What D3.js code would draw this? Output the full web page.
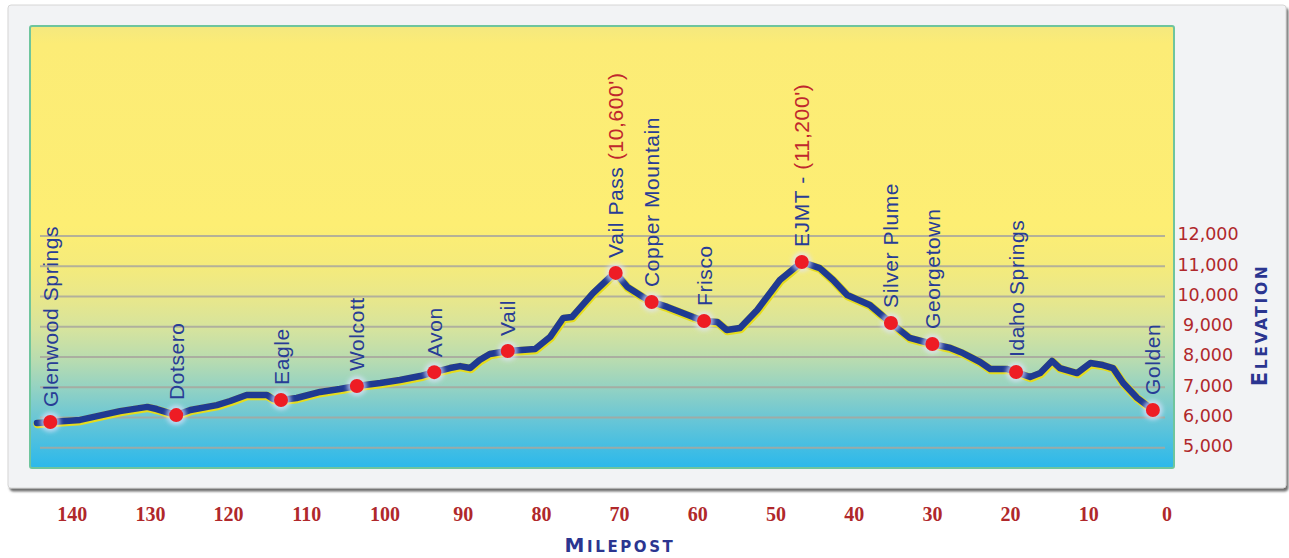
<!DOCTYPE html>
<html>
<head>
<meta charset="utf-8">
<script src="https://cdn.jsdelivr.net/npm/d3@7"></script>
<style>
  html, body { margin: 0; padding: 0; background: #ffffff; }
  svg { display: block; }
</style>
</head>
<body>
<svg id="chart" width="1289" height="558"></svg>
<script>
// ---------- DATA ----------
const profileMiles = [144.5,142.8,139.0,133.9,130.4,129.2,126.7,124.9,121.5,119.8,117.7,115.1,114.3,113.3,111.3,108.3,105.8,103.6,100.6,98.1,95.5,93.7,91.7,90.4,89.1,87.9,86.6,84.3,80.8,78.9,77.2,76.1,73.4,71.2,70.5,69.0,67.0,65.9,63.9,60.6,59.2,57.5,56.3,54.6,52.4,49.5,46.7,44.4,42.7,40.9,38.0,35.3,32.9,30.0,27.7,26.1,23.9,22.6,20.5,19.3,17.5,16.2,14.7,13.7,11.5,9.8,8.2,6.9,5.6,3.8,1.8];
const profileElev  = [5820,5850,5920,6210,6350,6280,6080,6250,6410,6545,6745,6745,6610,6580,6645,6845,6940,7040,7140,7240,7370,7500,7635,7700,7635,7900,8100,8200,8265,8660,9290,9320,10115,10645,10780,10315,9985,9820,9655,9320,9190,9155,8890,8960,9555,10545,11140,10940,10545,10050,9720,9125,8630,8430,8300,8130,7835,7605,7605,7505,7340,7470,7870,7635,7470,7800,7735,7635,7140,6645,6250];

const cityNames = ["Glenwood Springs","Dotsero","Eagle","Wolcott","Avon","Vail","Vail Pass","Copper Mountain","Frisco","EJMT - ","Silver Plume","Georgetown","Idaho Springs","Golden"];
const cityNotes = ["","","","","","","(10,600')","","","(11,200')","","","",""];
const cityMiles = [142.8,126.7,113.3,103.6,93.7,84.3,70.5,65.9,59.2,46.7,35.3,30.0,19.3,1.8];
const cityElev  = [5850,6080,6580,7040,7500,8200,10780,9820,9190,11140,9125,8430,7505,6250];

const xTickValues = [140,130,120,110,100,90,80,70,60,50,40,30,20,10,0];
const xTickLabels = ["140","130","120","110","100","90","80","70","60","50","40","30","20","10","0"];
const yTickValues = [12000,11000,10000,9000,8000,7000,6000,5000];
const yTickLabels = ["12,000","11,000","10,000","9,000","8,000","7,000","6,000","5,000"];
const xTitle = "Milepost";
const yTitle = "Elevation";

// ---------- LAYOUT ----------
const svg = d3.select("#chart");
const plot = {x: 30, y: 26, w: 1144, h: 442};
const x = d3.scaleLinear().domain([145.4, -0.9]).range([plot.x, plot.x + plot.w]);
const y = d3.scaleLinear().domain([5000, 12000]).range([447.75, 236]);

const defs = svg.append("defs");
const grad = defs.append("linearGradient").attr("id", "bg").attr("x1", 0).attr("y1", 0).attr("x2", 0).attr("y2", 1);
[[0, "#f4e87f"], [0.04, "#fcec76"], [0.45, "#fdee73"], [0.54, "#f5eb7b"], [0.62, "#e7e78c"],
 [0.69, "#d4e39f"], [0.76, "#b6dbb1"], [0.82, "#93d2c3"], [0.89, "#69c6d6"], [0.96, "#40bde4"], [1, "#2bb8eb"]]
  .forEach(s => grad.append("stop").attr("offset", s[0]).attr("stop-color", s[1]));

const shadow = defs.append("filter").attr("id", "shadow").attr("x", "-5%").attr("y", "-5%").attr("width", "110%").attr("height", "115%");
shadow.append("feDropShadow").attr("dx", 2).attr("dy", 3).attr("stdDeviation", 1.2).attr("flood-color", "#555").attr("flood-opacity", 0.85);

const glow = defs.append("filter").attr("id", "glow").attr("x", "-50%").attr("y", "-50%").attr("width", "200%").attr("height", "200%");
glow.append("feGaussianBlur").attr("stdDeviation", 2);

// outer panel
svg.append("rect").attr("x", 8).attr("y", 5).attr("width", 1278).attr("height", 483)
  .attr("rx", 3).attr("fill", "#f2f3f5").attr("stroke", "#d6d6d6").attr("stroke-width", 1)
  .attr("filter", "url(#shadow)");

// plot area
svg.append("rect").attr("x", plot.x).attr("y", plot.y).attr("width", plot.w).attr("height", plot.h)
  .attr("rx", 2).attr("fill", "url(#bg)").attr("stroke", "#6fc59d").attr("stroke-width", 2);

// gridlines
svg.append("g").selectAll("line").data(yTickValues).join("line")
  .attr("x1", 40).attr("x2", 1165)
  .attr("y1", d => y(d)).attr("y2", d => y(d))
  .attr("stroke", "#a9a79e").attr("stroke-width", 2).attr("opacity", 0.85);

// y labels
svg.append("g").selectAll("text").data(yTickValues).join("text")
  .attr("x", 1208).attr("y", d => y(d) - 2).attr("dy", "0.36em")
  .attr("text-anchor", "middle")
  .attr("font-family", "DejaVu Sans, Verdana, sans-serif").attr("font-size", 17.5)
  .attr("fill", "#b0282b")
  .text((d, i) => yTickLabels[i]);

// x labels
svg.append("g").selectAll("text").data(xTickValues).join("text")
  .attr("x", d => x(d)).attr("y", 521)
  .attr("text-anchor", "middle")
  .attr("font-family", "Liberation Serif, Times New Roman, serif").attr("font-weight", "bold").attr("font-size", 20)
  .attr("fill", "#b0282b")
  .text((d, i) => xTickLabels[i]);

// titles (small caps)
function smallCaps(sel, word, big, small) {
  const up = word.toUpperCase();
  sel.append("tspan").attr("font-size", big).text(up[0]);
  sel.append("tspan").attr("font-size", small).text(up.slice(1));
}
const xt = svg.append("text").attr("x", 620).attr("y", 552).attr("text-anchor", "middle")
  .attr("font-family", "DejaVu Sans, Arial, sans-serif").attr("font-weight", "bold")
  .attr("letter-spacing", 2.6).attr("fill", "#2b3590");
smallCaps(xt, xTitle, 20, 15);

const yt = svg.append("text").attr("transform", "translate(1267,325) rotate(-90)").attr("text-anchor", "middle")
  .attr("font-family", "DejaVu Sans, Arial, sans-serif").attr("font-weight", "bold")
  .attr("letter-spacing", 2.6).attr("fill", "#2b3590");
smallCaps(yt, yTitle, 21, 15.5);

// profile line
const pts = profileMiles.map((m, i) => [m, profileElev[i]]);
const line = d3.line().x(d => x(d[0])).y(d => y(d[1])).curve(d3.curveLinear);
svg.append("path").attr("d", line(pts)).attr("fill", "none")
  .attr("stroke", "#e6dc1c").attr("stroke-width", 8.5).attr("stroke-linejoin", "round").attr("stroke-linecap", "round")
  .attr("transform", "translate(0.6,1)");
svg.append("path").attr("d", line(pts)).attr("fill", "none")
  .attr("stroke", "#1f3a92").attr("stroke-width", 6.5).attr("stroke-linejoin", "round").attr("stroke-linecap", "round");

// city dots
const cities = cityNames.map((n, i) => ({name: n, note: cityNotes[i], m: cityMiles[i], e: cityElev[i]}));
svg.append("g").selectAll("circle").data(cities).join("circle")
  .attr("cx", d => x(d.m)).attr("cy", d => y(d.e)).attr("r", 10)
  .attr("fill", "#dfe4ff").attr("opacity", 0.7).attr("filter", "url(#glow)");
svg.append("g").selectAll("circle").data(cities).join("circle")
  .attr("cx", d => x(d.m)).attr("cy", d => y(d.e)).attr("r", 7)
  .attr("fill", "#ee1c24");

// city labels
const lbl = svg.append("g").selectAll("text").data(cities).join("text")
  .attr("transform", d => `translate(${x(d.m)},${y(d.e) - 15}) rotate(-90)`)
  .attr("dy", "0.36em")
  .attr("font-family", "Liberation Sans, Arial, sans-serif").attr("font-size", 21)
  .attr("letter-spacing", 0.6)
  .attr("fill", "#283c96");
lbl.append("tspan").text(d => d.name);
lbl.filter(d => d.note).append("tspan").attr("fill", "#c0272d").text(d => (d.name.endsWith(" ") ? "" : " ") + d.note);
</script>
</body>
</html>
